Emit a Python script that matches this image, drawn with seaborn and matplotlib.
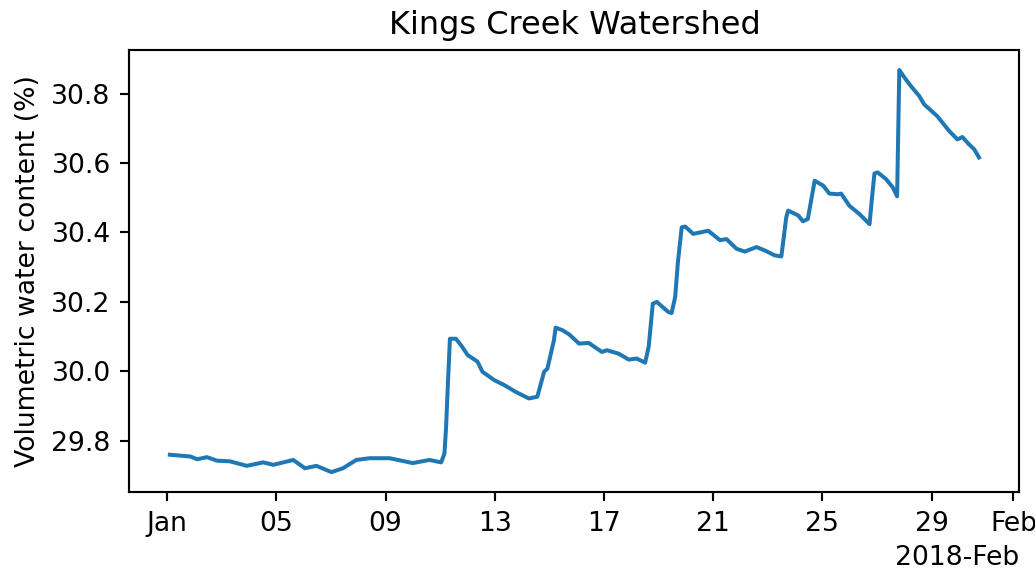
import pandas as pd
import numpy as np
import matplotlib
matplotlib.use('Agg')
import matplotlib.pyplot as plt
import matplotlib.dates as mdates
import seaborn as sns

# days since 2018-01-01 00:00
day_offsets = [0.10, 0.85, 1.10, 1.46, 1.82, 2.30, 2.92, 3.52, 3.89, 4.62,
               5.05, 5.47, 6.02, 6.44, 6.93, 7.42, 8.15, 9.00, 9.61, 10.04,
               10.16, 10.22, 10.27, 10.36, 10.58, 10.77, 11.01, 11.37, 11.55, 11.98,
               12.34, 12.77, 13.25, 13.56, 13.81, 13.93, 14.17, 14.23, 14.47, 14.72,
               15.09, 15.44, 15.93, 16.11, 16.54, 16.91, 17.20, 17.51, 17.64, 17.79,
               17.94, 18.36, 18.48, 18.61, 18.71, 18.85, 18.98, 19.27, 19.82, 20.25,
               20.49, 20.86, 21.16, 21.59, 21.90, 22.26, 22.50, 22.68, 22.75, 23.12,
               23.29, 23.47, 23.72, 24.03, 24.26, 24.57, 24.69, 24.99, 25.36, 25.73,
               25.81, 25.91, 26.03, 26.33, 26.58, 26.74, 26.82, 27.01, 27.24, 27.55,
               27.73, 28.21, 28.65, 28.95, 29.13, 29.37, 29.56, 29.74]

vwc = [29.760, 29.755, 29.747, 29.753, 29.743, 29.741, 29.728, 29.738, 29.731, 29.745,
       29.721, 29.728, 29.710, 29.721, 29.745, 29.750, 29.750, 29.736, 29.745, 29.738,
       29.764, 29.841, 29.937, 30.094, 30.094, 30.075, 30.047, 30.028, 29.999, 29.975,
       29.961, 29.941, 29.922, 29.927, 29.999, 30.008, 30.090, 30.126, 30.119, 30.107,
       30.080, 30.082, 30.056, 30.061, 30.051, 30.034, 30.037, 30.025, 30.071, 30.195,
       30.200, 30.171, 30.168, 30.214, 30.314, 30.415, 30.417, 30.396, 30.405, 30.378,
       30.381, 30.353, 30.345, 30.358, 30.348, 30.334, 30.331, 30.444, 30.463, 30.449,
       30.432, 30.439, 30.549, 30.535, 30.512, 30.510, 30.512, 30.477, 30.453, 30.424,
       30.492, 30.570, 30.573, 30.554, 30.530, 30.504, 30.868, 30.846, 30.822, 30.793,
       30.769, 30.735, 30.692, 30.668, 30.675, 30.654, 30.640, 30.616]

start = pd.Timestamp('2018-01-01 00:00')
df = pd.DataFrame({
    'time': start + pd.to_timedelta(day_offsets, unit='D'),
    'vwc': vwc,
})

fig = plt.figure(figsize=(1035 / 192, 573 / 192), dpi=192)
ax = fig.add_axes([0.125, 0.141, 0.860, 0.772])
sns.lineplot(data=df, x='time', y='vwc', ax=ax, color='#1f77b4', linewidth=1.5)

locator = mdates.AutoDateLocator()
ax.xaxis.set_major_locator(locator)
ax.xaxis.set_major_formatter(mdates.ConciseDateFormatter(locator))
ax.set_xlabel('')
ax.set_ylabel('Volumetric water content (%)')
ax.set_title('Kings Creek Watershed')

fig.savefig('out.png', dpi=192)
